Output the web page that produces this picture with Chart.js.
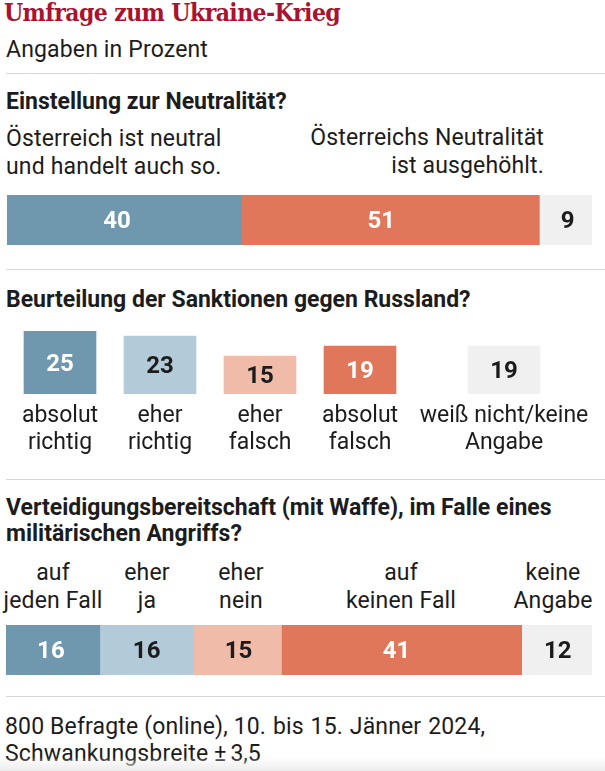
<!DOCTYPE html>
<html lang="de">
<head>
<meta charset="utf-8">
<title>Umfrage zum Ukraine-Krieg</title>
<script src="https://cdn.jsdelivr.net/npm/chart.js@4"></script>
<style>
  html, body { margin: 0; padding: 0; background: #fff; }
  body { width: 605px; height: 771px; position: relative; overflow: hidden; font-family: Roboto, sans-serif; color: #1c1c1c; }
  .t { position: absolute; white-space: nowrap; font-size: 23px; line-height: 28px; letter-spacing: .15px; }
  .h { font-weight: 700; letter-spacing: 0; }
  .c { text-align: center; transform: translateX(-50%); }
  .r { text-align: right; }
  .rule { position: absolute; left: 6px; width: 599px; height: 1px; background: #d6d6d6; }
  canvas { position: absolute; }
  #fade { position: absolute; left: 0; right: 0; bottom: 0; height: 14px; background: linear-gradient(rgba(236,236,236,0), #ececec); }
</style>
</head>
<body>
<div class="t" id="title" style="left:4px;top:-2px;font-family:'DejaVu Serif Condensed','DejaVu Serif';font-weight:700;font-size:24.5px;letter-spacing:-.6px;color:#a8132f;line-height:30px">Umfrage zum Ukraine-Krieg</div>
<div class="t" style="left:6px;top:36px">Angaben in Prozent</div>
<div class="rule" style="top:73px"></div>

<div class="t h" style="left:6px;top:88px">Einstellung zur Neutralität?</div>
<div class="t" style="left:6px;top:125px">Österreich ist neutral<br>und handelt auch so.</div>
<div class="t r" style="right:61px;top:124px">Österreichs Neutralität<br>ist ausgehöhlt.</div>
<canvas id="neutral" width="585" height="50" style="left:7px;top:195px"></canvas>
<div class="rule" style="top:269px"></div>

<div class="t h" style="left:6px;top:286px">Beurteilung der Sanktionen gegen Russland?</div>
<canvas id="sanktionen" width="400" height="133" style="left:10px;top:331px"></canvas>
<canvas id="sanktionenRest" width="190" height="133" style="left:409px;top:331px"></canvas>
<div class="rule" style="top:479px"></div>

<div class="t h" style="left:6px;top:495px;line-height:26px">Verteidigungsbereitschaft (mit Waffe), im Falle eines<br>militärischen Angriffs?</div>
<div class="t c" style="left:53px;top:559px">auf<br>jeden Fall</div>
<div class="t c" style="left:147px;top:559px">eher<br>ja</div>
<div class="t c" style="left:241px;top:559px">eher<br>nein</div>
<div class="t c" style="left:401px;top:559px">auf<br>keinen Fall</div>
<div class="t c" style="left:553px;top:559px">keine<br>Angabe</div>
<canvas id="verteidigung" width="586" height="50" style="left:6px;top:625px"></canvas>
<div class="rule" style="top:696px"></div>

<div class="t" style="left:5px;top:713px;line-height:27px">800 Befragte (online), <span style="word-spacing:1px">10. bis 15. Jänner 2024,</span><br>Schwankungsbreite <span style="letter-spacing:4px">±</span><span style="letter-spacing:0">3,5</span></div>
<div id="fade"></div>

<script>
/* ---------- Data ---------- */
const neutralLabels = ["neutral", "ausgehöhlt", "keine Angabe"];
const neutralValues = [40, 51, 9];

const sanktionenLabels = [["absolut", "richtig"], ["eher", "richtig"], ["eher", "falsch"], ["absolut", "falsch"]];
const sanktionenValues = [25, 23, 15, 19];
const restLabels = [["weiß nicht/keine", "Angabe"]];
const restValues = [19];

const verteidigungLabels = ["auf jeden Fall", "eher ja", "eher nein", "auf keinen Fall", "keine Angabe"];
const verteidigungValues = [16, 16, 15, 41, 12];

/* ---------- Colours ---------- */
const BLUE = "#6f97ae", LIGHTBLUE = "#b3cad8", LIGHTRED = "#f0bba8", RED = "#e0775a", GREY = "#f0f0f0";
const WHITE = "#ffffff", DARK = "#1c1c1c";

/* ---------- Value labels in the middle of each bar ---------- */
const valueLabels = {
    id: "valueLabels",
    afterDatasetsDraw(chart, args, opts) {
        const ctx = chart.ctx;
        ctx.save();
        ctx.font = "700 24px Roboto";
        ctx.textAlign = "center";
        ctx.textBaseline = "middle";
        chart.data.datasets.forEach((ds, i) => {
            chart.getDatasetMeta(i).data.forEach((bar, j) => {
                const p = bar.getCenterPoint();
                const k = chart.data.datasets.length > 1 ? i : j;
                ctx.fillStyle = opts.colors[k];
                ctx.fillText(String(ds.data[j]), p.x + (opts.shift ? opts.shift[k] : 0), p.y + 2);
            });
        });
        ctx.restore();
    }
};

/* ---------- Horizontal stacked bar ---------- */
function stackedBar(id, labels, values, colors, textColors, shift) {
    return new Chart(document.getElementById(id), {
        type: "bar",
        data: {
            labels: [""],
            datasets: values.map((v, i) => ({
                label: labels[i],
                data: [v],
                backgroundColor: colors[i],
                barPercentage: 1,
                categoryPercentage: 1
            }))
        },
        options: {
            indexAxis: "y",
            responsive: false,
            animation: false,
            layout: { padding: 0 },
            plugins: {
                legend: { display: false },
                tooltip: { enabled: false },
                valueLabels: { colors: textColors, shift: shift }
            },
            scales: {
                x: { stacked: true, min: 0, max: 100, display: false },
                y: { stacked: true, display: false }
            }
        },
        plugins: [valueLabels]
    });
}

/* ---------- Vertical columns ---------- */
function columns(id, labels, values, colors, textColors) {
    return new Chart(document.getElementById(id), {
        type: "bar",
        data: {
            labels: labels,
            datasets: [{ data: values, backgroundColor: colors, barThickness: 72 }]
        },
        options: {
            responsive: false,
            animation: false,
            layout: { padding: 0 },
            plugins: {
                legend: { display: false },
                tooltip: { enabled: false },
                valueLabels: { colors: textColors }
            },
            scales: {
                y: { min: 0, max: 25, display: false },
                x: {
                    afterFit(scale) { scale.height = 70; },
                    grid: { display: false },
                    border: { display: false },
                    ticks: {
                        autoSkip: false,
                        maxRotation: 0,
                        padding: 0,
                        color: DARK,
                        font: { family: "Roboto", size: 23, lineHeight: 1.2 }
                    }
                }
            }
        },
        plugins: [valueLabels]
    });
}

stackedBar("neutral", neutralLabels, neutralValues, [BLUE, RED, GREY], [WHITE, WHITE, DARK], [-7, -9, 2]);
columns("sanktionen", sanktionenLabels, sanktionenValues, [BLUE, LIGHTBLUE, LIGHTRED, RED], [WHITE, DARK, DARK, WHITE]);
columns("sanktionenRest", restLabels, restValues, [GREY], [DARK]);
stackedBar("verteidigung", verteidigungLabels, verteidigungValues, [BLUE, LIGHTBLUE, LIGHTRED, RED, GREY], [WHITE, DARK, DARK, WHITE, DARK], [-2, 0, 1, -5, 1]);
</script>
</body>
</html>
